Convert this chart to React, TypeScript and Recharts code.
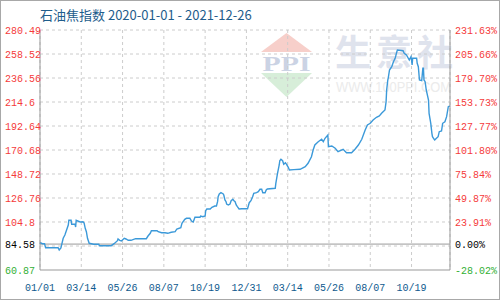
import React from 'react';
import { LineChart, Line, XAxis, YAxis, CartesianGrid, ReferenceLine } from 'recharts';

const title = '石油焦指数 2020-01-01 - 2021-12-26';

const dates = [
  '2020-01-01','2020-01-02','2020-01-05','2020-01-09','2020-01-11','2020-02-02','2020-02-04','2020-02-07','2020-02-11','2020-02-14',
  '2020-02-20','2020-02-21','2020-02-25','2020-02-26','2020-03-03','2020-03-04','2020-03-05','2020-03-12','2020-03-17','2020-03-19',
  '2020-03-21','2020-03-23','2020-03-25','2020-03-28','2020-04-05','2020-04-14','2020-04-15','2020-05-06','2020-05-11','2020-05-17',
  '2020-05-18','2020-05-21','2020-05-24','2020-05-29','2020-06-01','2020-06-05','2020-06-10','2020-06-18','2020-07-07','2020-07-10',
  '2020-07-14','2020-07-16','2020-07-26','2020-07-28','2020-08-03','2020-08-09','2020-08-14','2020-08-20','2020-08-27','2020-08-30',
  '2020-09-06','2020-09-08','2020-09-13','2020-09-16','2020-09-22','2020-09-25','2020-09-28','2020-10-01','2020-10-10','2020-10-11',
  '2020-10-15','2020-10-19','2020-10-20','2020-10-22','2020-10-28','2020-10-31','2020-11-05','2020-11-08','2020-11-10','2020-11-11',
  '2020-11-13','2020-11-16','2020-11-20','2020-11-21','2020-11-23','2020-11-25','2020-11-26','2020-11-29','2020-12-02','2020-12-04',
  '2020-12-07','2020-12-09','2020-12-11','2020-12-13','2020-12-15','2020-12-18','2020-12-23','2021-01-02','2021-01-03','2021-01-05',
  '2021-01-08','2021-01-11','2021-01-13','2021-01-18','2021-01-21','2021-01-24','2021-01-27','2021-01-29','2021-02-02','2021-02-04',
  '2021-02-06','2021-02-20','2021-02-21','2021-02-24','2021-02-27','2021-02-28','2021-03-02','2021-03-05','2021-03-07','2021-03-10',
  '2021-03-12','2021-03-15','2021-03-17','2021-03-25','2021-04-05','2021-04-14','2021-04-19','2021-04-25','2021-04-28','2021-05-01',
  '2021-05-07','2021-05-13','2021-05-16','2021-05-19','2021-05-24','2021-05-25','2021-05-31','2021-06-06','2021-06-11','2021-06-20',
  '2021-06-26','2021-07-05','2021-07-11','2021-07-17','2021-07-23','2021-07-29','2021-08-02','2021-08-07','2021-08-12','2021-08-18',
  '2021-08-23','2021-08-27','2021-09-02','2021-09-04','2021-09-05','2021-09-07','2021-09-08','2021-09-10','2021-09-14','2021-09-17',
  '2021-09-20','2021-09-23','2021-09-24','2021-10-04','2021-10-06','2021-10-10','2021-10-15','2021-10-18','2021-10-19','2021-10-20',
  '2021-10-21','2021-10-28','2021-10-29','2021-10-31','2021-11-02','2021-11-06','2021-11-08','2021-11-09','2021-11-10','2021-11-12',
  '2021-11-14','2021-11-18','2021-11-19','2021-11-22','2021-11-24','2021-11-25','2021-11-28','2021-11-29','2021-12-02','2021-12-05',
  '2021-12-07','2021-12-11','2021-12-13','2021-12-17','2021-12-20','2021-12-23','2021-12-26',
];

const prices = [
  84.58, 85.85, 84.94, 84.94, 81.28, 81.28, 79.17, 81.0, 89.88, 92.9,
  102.05, 106.35, 106.35, 102.69, 102.69, 100.22, 106.35, 104.79, 105.07, 103.88,
  99.03, 95.92, 89.88, 85.3, 84.4, 84.4, 83.11, 83.11, 84.94, 87.68,
  89.24, 88.05, 87.41, 89.88, 89.24, 88.05, 88.05, 89.51, 89.51, 91.98,
  94.45, 96.83, 96.83, 95.92, 95.0, 95.0, 94.45, 95.37, 95.92, 98.39,
  99.58, 103.61, 107.27, 108.18, 108.18, 105.71, 104.79, 109.1, 109.1, 110.29,
  109.64, 110.29, 115.14, 116.69, 116.69, 118.25, 119.44, 119.44, 123.37, 127.95,
  130.42, 131.61, 130.42, 129.5, 124.93, 123.37, 121.27, 120.35, 121.27, 124.29,
  125.57, 124.29, 123.37, 120.35, 118.8, 116.69, 116.97, 116.97, 118.8, 122.46,
  124.29, 127.95, 131.06, 131.61, 132.52, 134.72, 134.72, 131.61, 131.61, 134.08,
  134.99, 135.63, 140.21, 149.36, 156.95, 160.89, 162.17, 160.89, 157.59, 159.06,
  157.59, 154.85, 152.38, 152.7, 153.02, 155.4, 158.51, 164.55, 170.68, 175.26,
  178.28, 180.47, 178.28, 181.39, 184.41, 173.7, 174.34, 172.24, 169.12, 171.32,
  168.21, 168.21, 171.32, 175.26, 180.47, 188.98, 193.56, 195.11, 198.13, 200.6,
  201.79, 204.26, 207.28, 214.88, 225.59, 234.74, 237.21, 243.89, 246.91, 251.48,
  254.59, 260.63, 262.19, 261.55, 259.17, 257.61, 253.04, 256.06, 253.04, 248.46,
  254.59, 254.59, 250.02, 246.91, 234.74, 234.1, 245.44, 245.44, 234.74, 233.18,
  225.59, 216.43, 204.26, 195.11, 185.96, 182.85, 180.47, 179.83, 181.39, 182.85,
  187.43, 188.07, 195.11, 196.58, 201.15, 210.3, 210.94,
];

const xTickDates = ['2020-01-01','2020-03-14','2020-05-26','2020-08-07','2020-10-19','2020-12-31','2021-03-14','2021-05-26','2021-08-07','2021-10-19'];
const xTickLabels = ['01/01','03/14','05/26','08/07','10/19','12/31','03/14','05/26','08/07','10/19'];
const yTickValues = [60.87, 84.58, 104.8, 126.76, 148.72, 170.68, 192.64, 214.6, 236.56, 258.52, 280.49];
const pctLabels = ['-28.02%','0.00%','23.91%','49.87%','75.84%','101.80%','127.77%','153.73%','179.70%','205.66%','231.63%'];
const gridValues = [82.83, 104.8, 126.76, 148.72, 170.68, 192.64, 214.6, 236.56, 258.52, 280.49];
const baseValue = 84.58;
const startDate = '2020-01-01';
const endDate = '2021-12-26';

const DAY_MS = 86400000;
const toDay = (s: string) => {
  const [y, m, d] = s.split('-').map(Number);
  const [y0, m0, d0] = startDate.split('-').map(Number);
  return Math.round((Date.UTC(y, m - 1, d) - Date.UTC(y0, m0 - 1, d0)) / DAY_MS);
};

const data = dates.map((d, i) => ({ day: toDay(d), price: prices[i] }));
const xTicks = xTickDates.map(toDay);
const xDomain = [0, toDay(endDate)];

const LABEL_FONT = '"Liberation Mono", "DejaVu Sans Mono", monospace';
const RED = '#f53b3b';
const GREEN = '#33b035';
const BLUE_TXT = '#0f5a8e';

const colorFor = (v: number) => (Math.abs(v - baseValue) < 1e-6 ? '#000' : v > baseValue ? RED : GREEN);

const LeftTick = (props: any) => {
  const { y, payload } = props;
  const v = payload.value as number;
  return (
    <text x={5} y={y} dy={4} textAnchor="start" fill={colorFor(v)} fontSize={10} fontFamily={LABEL_FONT}>
      {String(v)}
    </text>
  );
};

const RightTick = (props: any) => {
  const { y, payload } = props;
  const v = payload.value as number;
  const idx = yTickValues.indexOf(v);
  return (
    <text x={455} y={y} dy={4} textAnchor="start" fill={colorFor(v)} fontSize={10} fontFamily={LABEL_FONT}>
      {pctLabels[idx]}
    </text>
  );
};

const BottomTick = (props: any) => {
  const { x, payload } = props;
  const idx = xTicks.indexOf(payload.value);
  return (
    <text x={x} y={291} textAnchor="middle" fill={BLUE_TXT} fontSize={10} fontFamily={LABEL_FONT}>
      {xTickLabels[idx]}
    </text>
  );
};

export default function App() {
  return (
    <div style={{ position: 'absolute', left: 0, top: 0, width: 500, height: 300, background: '#fff', overflow: 'hidden' }}>
      <svg width={500} height={300} style={{ position: 'absolute', left: 0, top: 0 }}>
        <polygon points="286.5,33 261,52 312,52" fill="#f7cfca" />
        <text x={286.5} y={71} textAnchor="middle" fontSize={22} fontWeight="bold" fontFamily='"Liberation Serif", serif' fill="#cbd3e4" textLength={48} lengthAdjust="spacingAndGlyphs">PPI</text>
        <polygon points="261,73 312,73 286.5,97" fill="#d7eed9" />
        <text x={335} y={66} fontSize={36} fontWeight="bold" fontFamily='"Noto Sans CJK SC", sans-serif' fill="#dfe3ed" textLength={118} lengthAdjust="spacing">生意社</text>
        <text x={336} y={92} fontSize={14} fontFamily='"Liberation Sans", Arial, sans-serif' fill="#ebebeb" textLength={115} lengthAdjust="spacingAndGlyphs">WWW.100PPI.COM</text>
        <text x={40} y={19.5} fontSize={13} fontFamily='"Noto Sans CJK SC", sans-serif' fill="#1f5d8c">{title}</text>
      </svg>
      <div style={{ position: 'absolute', left: 0, top: 0 }}>
        <LineChart width={500} height={300} data={data} margin={{ top: 30, right: 0, bottom: 0, left: 0 }}>
          <CartesianGrid horizontal={false} stroke="#cccccc" strokeDasharray="3 3" />
          {gridValues.map((v) => (
            <ReferenceLine key={v} y={v} yAxisId="left" stroke="#cccccc" strokeDasharray="3 3" />
          ))}
          <ReferenceLine y={baseValue} yAxisId="left" stroke="#999999" />
          <XAxis
            dataKey="day"
            type="number"
            domain={xDomain}
            ticks={xTicks}
            tick={<BottomTick />}
            tickLine={false}
            axisLine={{ stroke: '#999999' }}
            height={30}
            interval={0}
          />
          <YAxis
            yAxisId="left"
            type="number"
            domain={[yTickValues[0], yTickValues[yTickValues.length - 1]]}
            ticks={yTickValues}
            tick={<LeftTick />}
            tickLine={false}
            axisLine={{ stroke: '#999999' }}
            width={40}
            interval={0}
            allowDataOverflow
          />
          <YAxis
            yAxisId="right"
            orientation="right"
            type="number"
            domain={[yTickValues[0], yTickValues[yTickValues.length - 1]]}
            ticks={yTickValues}
            tick={<RightTick />}
            tickLine={false}
            axisLine={{ stroke: '#999999' }}
            width={50}
            interval={0}
            allowDataOverflow
          />
          <Line
            yAxisId="left"
            type="linear"
            dataKey="price"
            stroke="#3b99d9"
            strokeWidth={1.4}
            dot={false}
            isAnimationActive={false}
          />
        </LineChart>
      </div>
      <div style={{ position: 'absolute', left: 0, top: 0, width: 500, height: 300, boxSizing: 'border-box', border: '1px solid #a8a8a8', pointerEvents: 'none' }} />
    </div>
  );
}
